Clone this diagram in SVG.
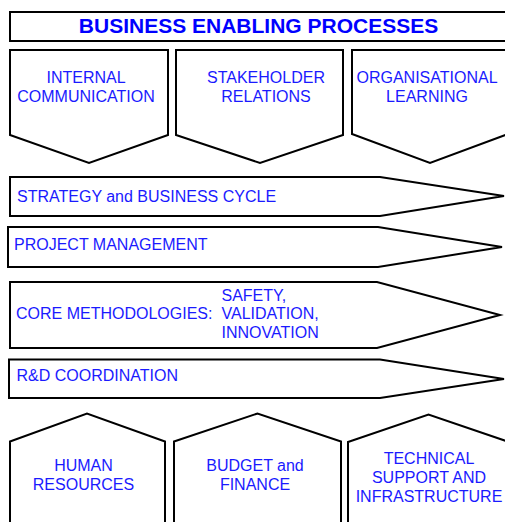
<svg xmlns="http://www.w3.org/2000/svg" width="505" height="522" viewBox="0 0 505 522">
  <style>
    .shape { fill: #ffffff; stroke: #000000; stroke-width: 2; stroke-linejoin: miter; }
    .label { font-family: "Liberation Sans", Arial, sans-serif; font-size: 16px; fill: #1a1aff; }
    .mid { text-anchor: middle; }
    .title { font-family: "Liberation Sans", Arial, sans-serif; font-size: 21px; font-weight: bold; fill: #0000ff; text-anchor: middle; }
  </style>
  <rect width="505" height="522" fill="#ffffff"/>

  <!-- heading band -->
  <g id="heading">
    <rect class="shape" x="10" y="12" width="510" height="29"/>
    <text class="title" x="258.5" y="33">BUSINESS ENABLING PROCESSES</text>
  </g>

  <!-- upper chevrons -->
  <g id="internal-communication">
    <polygon class="shape" points="10,50 168,50 168,135 89,163 10,135"/>
    <text class="label mid" x="86" y="83">INTERNAL</text>
    <text class="label mid" x="86" y="102">COMMUNICATION</text>
  </g>
  <g id="stakeholder-relations">
    <polygon class="shape" points="176,50 343,50 343,135 260,163 176,135"/>
    <text class="label mid" x="266" y="83">STAKEHOLDER</text>
    <text class="label mid" x="266" y="102">RELATIONS</text>
  </g>
  <g id="organisational-learning">
    <polygon class="shape" points="352,50 508,50 508,134 430,163 352,134"/>
    <text class="label mid" x="427" y="83">ORGANISATIONAL</text>
    <text class="label mid" x="427" y="102">LEARNING</text>
  </g>

  <!-- horizontal process arrows -->
  <g id="strategy-business-cycle">
    <polygon class="shape" points="10,177 380,177 504,196 380,216 10,216"/>
    <text class="label" x="17" y="202">STRATEGY and BUSINESS CYCLE</text>
  </g>
  <g id="project-management">
    <polygon class="shape" points="8,227 378,227 502,247 378,267 8,267"/>
    <text class="label" x="14" y="250">PROJECT MANAGEMENT</text>
  </g>
  <g id="core-methodologies">
    <polygon class="shape" points="10,282 377,282 500,315 377,348 10,348"/>
    <text class="label" x="16" y="319">CORE METHODOLOGIES:</text>
    <text class="label" x="221.5" y="300.5">SAFETY,</text>
    <text class="label" x="221.5" y="319">VALIDATION,</text>
    <text class="label" x="221.5" y="337.5">INNOVATION</text>
  </g>
  <g id="rd-coordination">
    <polygon class="shape" points="9,359.5 380,359.5 504,379 380,398 9,398"/>
    <text class="label" x="16.5" y="381">R&amp;D COORDINATION</text>
  </g>

  <!-- lower houses -->
  <g id="human-resources">
    <polygon class="shape" points="10,441.5 87,413.5 165,441.5 165,530 10,530"/>
    <text class="label mid" x="83.5" y="470.5">HUMAN</text>
    <text class="label mid" x="83.5" y="489.5">RESOURCES</text>
  </g>
  <g id="budget-finance">
    <polygon class="shape" points="174,441.5 257.5,413.5 341,441.5 341,530 174,530"/>
    <text class="label mid" x="255" y="471">BUDGET and</text>
    <text class="label mid" x="255" y="490">FINANCE</text>
  </g>
  <g id="technical-support">
    <polygon class="shape" points="348,442 428.5,414.5 509,442 509,530 348,530"/>
    <text class="label mid" x="429" y="464">TECHNICAL</text>
    <text class="label mid" x="429" y="483">SUPPORT AND</text>
    <text class="label mid" x="429" y="502">INFRASTRUCTURE</text>
  </g>
</svg>
